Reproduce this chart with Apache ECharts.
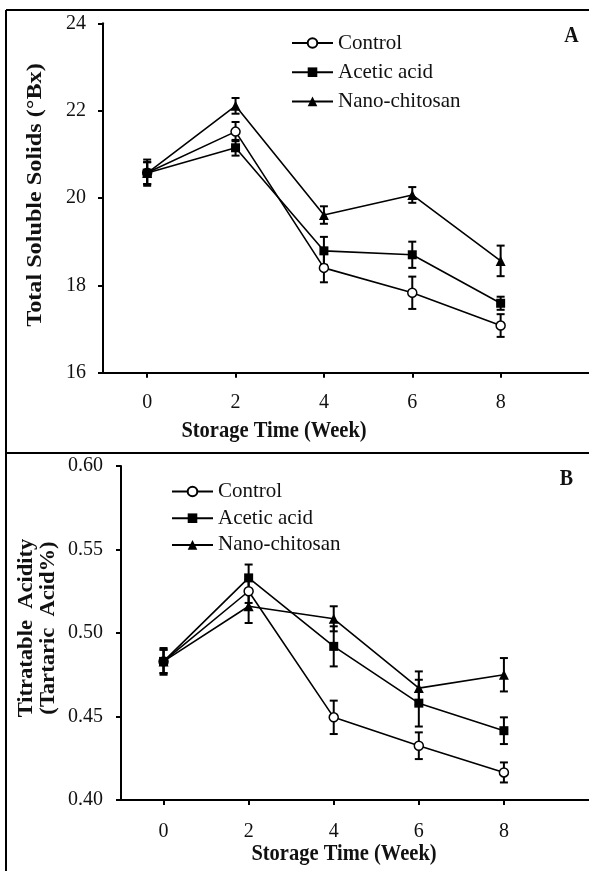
<!DOCTYPE html>
<html><head><meta charset="utf-8">
<script src="https://cdn.jsdelivr.net/npm/echarts@6/dist/echarts.min.js"></script>
<style>html,body{margin:0;padding:0;background:#fff}#c{width:589px;height:871px}</style>
</head><body><div id="c"></div>
<script>
// ---- data ----
const weeks = [0, 2, 4, 6, 8];
const weekTicks = [0, 2, 4, 6, 8];
const seriesNames = ['Control', 'Acetic acid', 'Nano-chitosan'];

// Panel A: Total Soluble Solids (°Bx)
const tssControl    = [20.58, 21.52, 18.40, 17.83, 17.08];
const tssControlErr = [0.30, 0.22, 0.33, 0.37, 0.26];
const tssAcetic     = [20.57, 21.15, 18.79, 18.70, 17.59];
const tssAceticErr  = [0.25, 0.18, 0.32, 0.30, 0.15];
const tssNano       = [20.57, 22.11, 19.61, 20.07, 18.56];
const tssNanoErr    = [0.25, 0.18, 0.20, 0.18, 0.35];

// Panel B: Titratable Acidity (Tartaric Acid%)
const taControl    = [0.483, 0.525, 0.4495, 0.4325, 0.4165];
const taControlErr = [0.008, 0.007, 0.010, 0.008, 0.006];
const taAcetic     = [0.483, 0.533, 0.492, 0.458, 0.4415];
const taAceticErr  = [0.007, 0.008, 0.012, 0.014, 0.008];
const taNano       = [0.483, 0.516, 0.5085, 0.467, 0.475];
const taNanoErr    = [0.007, 0.010, 0.0075, 0.010, 0.010];

const yTicksA = {min: 16, max: 24, interval: 2};
const yTicksB = {min: 0.40, max: 0.60, interval: 0.05};

// ---- chart ----
const FONT = 'Liberation Serif';
const chart = echarts.init(document.getElementById('c'), null, {renderer: 'canvas'});

function pts(vals) { return weeks.map((w, i) => [w, vals[i]]); }
function errPts(vals, errs) { return weeks.map((w, i) => [w, vals[i], errs[i]]); }

function errRender(params, api) {
  const x = api.value(0), y = api.value(1), e = api.value(2);
  const t = api.coord([x, y + e]), b = api.coord([x, y - e]);
  const hw = 4;
  const style = {stroke: '#000', lineWidth: 2, fill: null};
  return {type: 'group', children: [
    {type: 'line', shape: {x1: t[0], y1: t[1], x2: b[0], y2: b[1]}, style: style},
    {type: 'line', shape: {x1: t[0] - hw, y1: t[1], x2: t[0] + hw, y2: t[1]}, style: style},
    {type: 'line', shape: {x1: b[0] - hw, y1: b[1], x2: b[0] + hw, y2: b[1]}, style: style}
  ]};
}

const markerStyles = [
  {symbol: 'circle', symbolSize: 9, itemStyle: {color: '#fff', borderColor: '#000', borderWidth: 1.5}},
  {symbol: 'rect', symbolSize: 9, itemStyle: {color: '#000', borderColor: '#000', borderWidth: 0}},
  {symbol: 'triangle', symbolSize: 10, itemStyle: {color: '#000', borderColor: '#000', borderWidth: 0}}
];

function lineSeries(idx, name, vals, gi) {
  return Object.assign({
    type: 'line', name: name, xAxisIndex: gi, yAxisIndex: gi,
    data: pts(vals), z: 5,
    lineStyle: {color: '#000', width: 1.6},
    emphasis: {disabled: true}
  }, markerStyles[idx]);
}
function errSeries(name, vals, errs, gi) {
  return {type: 'custom', name: name + ' err', xAxisIndex: gi, yAxisIndex: gi,
    data: errPts(vals, errs), renderItem: errRender, z: 3, clip: false,
    encode: {x: 0, y: 1}, silent: true};
}

function xAx(gi, margin) {
  return {type: 'value', gridIndex: gi, min: -1, max: 10, position: 'bottom',
    axisLine: {show: true, onZero: false, lineStyle: {color: '#000', width: 2}},
    axisTick: {show: true, customValues: weekTicks, length: 5, lineStyle: {color: '#000', width: 2}},
    axisLabel: {customValues: weekTicks, margin: margin, color: '#111', fontFamily: FONT, fontSize: 20},
    splitLine: {show: false}};
}
function yAx(gi, t, margin, digits) {
  return {type: 'value', gridIndex: gi, min: t.min, max: t.max, interval: t.interval,
    axisLine: {show: true, onZero: false, lineStyle: {color: '#000', width: 2}},
    axisTick: {show: true, length: 5, lineStyle: {color: '#000', width: 2}},
    axisLabel: {margin: margin, color: '#111', fontFamily: FONT, fontSize: 20,
      formatter: v => digits ? v.toFixed(digits) : String(v)},
    splitLine: {show: false}};
}

function txt(text, x, y, size, opts) {
  opts = opts || {};
  return {type: 'text', x: x, y: y, rotation: opts.rot || 0,
    scaleX: opts.sx || 1, scaleY: opts.sy || 1, z: 10,
    style: {text: text, fontFamily: FONT, fontSize: size, fontWeight: opts.bold ? 'bold' : 'normal',
      fill: '#111', align: 'center', verticalAlign: 'middle',
      textAlign: 'center', textVerticalAlign: 'middle'}};
}

const legendBase = {data: seriesNames, orient: 'vertical', itemWidth: 41, itemHeight: 12,
  padding: 0, selectedMode: false,
  textStyle: {fontFamily: FONT, fontSize: 21, color: '#111'}};

const option = {
  animation: false,
  backgroundColor: '#fff',
  grid: [
    {left: 103, top: 23.3, width: 540, height: 349.4, containLabel: false},
    {left: 121, top: 466, width: 518.5, height: 334, containLabel: false}
  ],
  xAxis: [xAx(0, 20), xAx(1, 22)],
  yAxis: [yAx(0, yTicksA, 17, 0), yAx(1, yTicksB, 18, 2)],
  legend: [
    Object.assign({}, legendBase, {left: 291, top: 32.5, itemGap: 8.2}),
    Object.assign({}, legendBase, {left: 171, top: 481, itemGap: 5.7})
  ],
  graphic: [
    {type: 'line', shape: {x1: 6, y1: 10, x2: 589, y2: 10}, style: {stroke: '#000', lineWidth: 2}, z: 1},
    {type: 'line', shape: {x1: 6, y1: 10, x2: 6, y2: 871}, style: {stroke: '#000', lineWidth: 2}, z: 1},
    {type: 'line', shape: {x1: 6, y1: 453, x2: 589, y2: 453}, style: {stroke: '#000', lineWidth: 2}, z: 1},
    txt('A', 571.5, 36, 20, {bold: true, sy: 1.15}),
    txt('B', 566.5, 479, 20, {bold: true, sy: 1.15}),
    txt('Storage Time (Week)', 274, 431, 20.5, {bold: true, sy: 1.15}),
    txt('Storage Time (Week)', 344, 854, 20.5, {bold: true, sy: 1.15}),
    txt('Total Soluble Solids (°Bx)', 35.7, 195, 20.5, {bold: true, rot: Math.PI / 2, sx: 1.18}),
    txt('Titratable  Acidity', 26.3, 628, 20.5, {bold: true, rot: Math.PI / 2, sx: 1.1}),
    txt('(Tartaric  Acid%)', 48.8, 628, 20.5, {bold: true, rot: Math.PI / 2, sx: 1.1})
  ],
  series: [
    errSeries('Control', tssControl, tssControlErr, 0),
    errSeries('Acetic acid', tssAcetic, tssAceticErr, 0),
    errSeries('Nano-chitosan', tssNano, tssNanoErr, 0),
    lineSeries(0, 'Control', tssControl, 0),
    lineSeries(1, 'Acetic acid', tssAcetic, 0),
    lineSeries(2, 'Nano-chitosan', tssNano, 0),
    errSeries('Control', taControl, taControlErr, 1),
    errSeries('Acetic acid', taAcetic, taAceticErr, 1),
    errSeries('Nano-chitosan', taNano, taNanoErr, 1),
    lineSeries(0, 'Control', taControl, 1),
    lineSeries(1, 'Acetic acid', taAcetic, 1),
    lineSeries(2, 'Nano-chitosan', taNano, 1)
  ]
};
chart.setOption(option);
</script></body></html>
